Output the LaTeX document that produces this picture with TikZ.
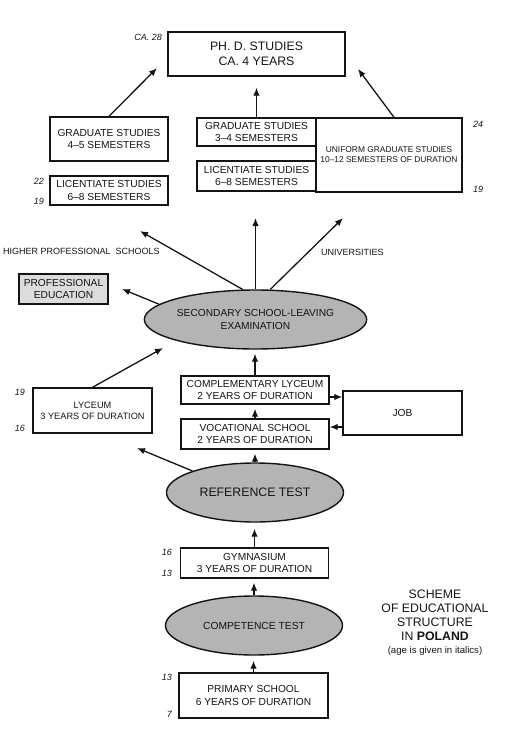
\documentclass[tikz,border=0pt]{standalone}
\usepackage{fontspec}
\setmainfont{Liberation Sans}
\usetikzlibrary{shapes.geometric,arrows.meta}
\definecolor{ellfill}{HTML}{B4B4B4}
\definecolor{profill}{HTML}{DCDCDC}
\definecolor{ink}{HTML}{141414}
\newcommand{\fs}[1]{\fontsize{#1}{1.2\dimexpr#1pt\relax}\selectfont}
\tikzset{
  box/.style={draw=ink, line width=1.4pt, inner sep=0pt, align=center, text=ink, font=\fs{10.2}},
  ell/.style={ellipse, draw=ink, line width=1.4pt, fill=ellfill, inner sep=0pt, align=center, text=ink,
     minimum width=177pt, minimum height=59pt, font=\fs{10.2}},
  arr/.style={draw=ink, line width=1.3pt, -{Latex[length=8pt,width=6.5pt]}},
  gap/.style={shorten >=4pt},
  age/.style={font=\itshape\fs{9}, text=ink, inner sep=0pt},
  lbl/.style={font=\fs{9}, text=ink, inner sep=0pt, anchor=west}
}
\begin{document}
\begin{tikzpicture}[x=1pt,y=-1pt]
\useasboundingbox (0,0) rectangle (529,729);
% top level
\node[box, minimum width=177pt, minimum height=44pt, font=\fs{12.3}] (phd) at (256.5,54) {PH. D. STUDIES\\CA. 4 YEARS};
\node[age, anchor=east] (a28) at (162,37) {CA. 28};
\node[box, minimum width=118pt, minimum height=44pt] (gradL) at (109,139) {GRADUATE STUDIES\\4--5 SEMESTERS};
\node[box, minimum width=118pt, minimum height=29pt] (licL) at (109,190.5) {LICENTIATE STUDIES\\6--8 SEMESTERS};
\node[age, anchor=east] (a22) at (44,181) {22};
\node[age, anchor=east] (a19a) at (44,201) {19};
\node[box, minimum width=119pt, minimum height=28pt] (gradM) at (256.5,132) {GRADUATE STUDIES\\3--4 SEMESTERS};
\node[box, minimum width=119pt, minimum height=30pt] (licM) at (256.5,176) {LICENTIATE STUDIES\\6--8 SEMESTERS};
\node[box, minimum width=146pt, minimum height=74pt, font=\fontsize{8.4}{10}\selectfont] (unif) at (389,155) {UNIFORM GRADUATE STUDIES\\10--12 SEMESTERS OF DURATION};
\node[age, anchor=west] (a24) at (473,124) {24};
\node[age, anchor=west] (a19b) at (473,189) {19};
\coordinate (t1) at (157,68);
\coordinate (t2) at (358,69);
\draw[arr] (gradL.north) -- (t1);
\draw[arr, shorten >=11pt] (gradM.north) -- (phd.south -| gradM.north);
\draw[arr] ([xshift=5pt]unif.north) -- (t2);
% secondary school-leaving
\node[ell] (ssle) at (255.5,319.5) {SECONDARY SCHOOL-LEAVING\\EXAMINATION};
\node[lbl] (hps) at (3,251) {HIGHER PROFESSIONAL\ \ SCHOOLS};
\node[lbl] (uni) at (321,252) {UNIVERSITIES};
\node[box, fill=profill, minimum width=89pt, minimum height=30pt] (prof) at (63.5,289) {PROFESSIONAL\\EDUCATION};
\coordinate (t3) at (140,231);
\coordinate (t4) at (255.5,218);
\coordinate (t5) at (343,218);
\coordinate (t6) at (122,289);
\draw[arr] (ssle.113) -- (t3);
\draw[arr] (ssle.north) -- (t4);
\draw[arr] (ssle.64) -- (t5);
\draw[arr] (ssle.171) -- (t6);
% secondary level
\node[box, minimum width=119pt, minimum height=45pt, font=\fs{9.2}] (lyc) at (92.5,410.5) {LYCEUM\\3 YEARS OF DURATION};
\node[age, anchor=east] (a19c) at (25,392) {19};
\node[age, anchor=east] (a16a) at (25,428) {16};
\node[box, minimum width=148pt, minimum height=28pt] (comp) at (255,390) {COMPLEMENTARY LYCEUM\\2 YEARS OF DURATION};
\node[box, minimum width=148pt, minimum height=30pt] (voc) at (255,434) {VOCATIONAL SCHOOL\\2 YEARS OF DURATION};
\node[box, minimum width=119pt, minimum height=44pt] (job) at (402.5,413) {JOB};
\coordinate (t7) at (163,348);
\draw[arr] (lyc.north) -- (t7);
\draw[arr, gap] (comp.north) -- (comp.north |- ssle.south);
\draw[arr, gap] (voc.north) -- (comp.south);
\draw[arr] (comp.east |- 0,397) -- (job.west |- 0,397);
\draw[arr] (job.west |- 0,427) -- (voc.east |- 0,427);
% reference test
\node[ell, font=\fs{12.3}] (ref) at (255,492.5) {REFERENCE TEST};
\coordinate (t8) at (137,448);
\draw[arr] (ref.161) -- (t8);
\draw[arr, gap] (ref.north) -- (voc.south);
% gymnasium
\node[box, minimum width=148pt, minimum height=30pt] (gym) at (254.5,563) {GYMNASIUM\\3 YEARS OF DURATION};
\node[age, anchor=east] (a16b) at (172,552) {16};
\node[age, anchor=east] (a13a) at (172,573) {13};
\draw[arr, shorten >=6pt] (gym.north) -- (gym.north |- ref.south);
% competence
\node[ell, font=\fs{10.3}] (comptest) at (254,625.5) {COMPETENCE TEST};
\draw[arr, gap] (comptest.north) -- (comptest.north |- gym.south);
% primary
\node[box, minimum width=149pt, minimum height=45pt] (prim) at (253.5,695.5) {PRIMARY SCHOOL\\6 YEARS OF DURATION};
\node[age, anchor=east] (a13b) at (172,677) {13};
\node[age, anchor=east] (a7) at (172,714) {7};
\draw[arr, shorten >=5pt] (prim.north) -- (prim.north |- comptest.south);
% title
\node[align=center, text=ink, inner sep=0pt, font=\fontsize{12.3}{13.8}\selectfont, anchor=north] (title) at (435,590)
  {SCHEME\\OF EDUCATIONAL\\STRUCTURE\\IN \textbf{POLAND}\\{\fontsize{9.6}{12}\selectfont (age is given in italics)}};
\end{tikzpicture}
\end{document}
